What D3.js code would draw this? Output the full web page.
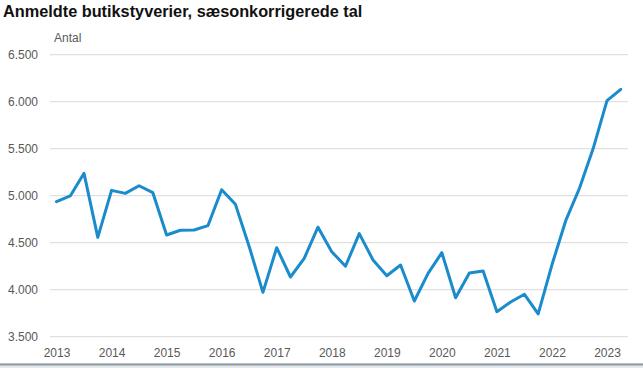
<!DOCTYPE html>
<html><head><meta charset="utf-8">
<script src="https://cdn.jsdelivr.net/npm/d3@7"></script>
<style>body{margin:0;background:#fff}svg{display:block}</style>
</head><body>
<script>
const years = [2013,2014,2015,2016,2017,2018,2019,2020,2021,2022,2023];
const quarters = [];
years.forEach(y => [1,2,3,4].forEach(q => { if (!(y===2023 && q>2)) quarters.push(y + (q-1)/4); }));
const values = [
 4936,4997,5238,4557,
 5057,5025,5106,5032,
 4582,4632,4635,4681,
 5064,4908,4460,3972,
 4447,4135,4334,4665,
 4404,4250,4596,4316,
 4149,4263,3880,4174,
 4394,3915,4177,4199,
 3766,3869,3951,3742,
 4265,4734,5079,5504,
 6011,6132
];
const yTicks = [3500,4000,4500,5000,5500,6000,6500];
const title = "Anmeldte butikstyverier, sæsonkorrigerede tal";
const yUnit = "Antal";

const W=643,H=368;
const svg=d3.select("body").append("svg").attr("width",W).attr("height",H)
  .style("font-family","'Liberation Sans', Arial, sans-serif");

const x=d3.scaleLinear().domain([2013,2023]).range([56.5,607]);
const y=d3.scaleLinear().domain([3500,6500]).range([336.7,54.7]);
const fmt=d3.format(",");
const dk=v=>fmt(v).replace(/,/g,".");

svg.append("text").attr("x",3).attr("y",17).attr("font-size",16.3).attr("font-weight","bold")
  .attr("fill","#111").text(title);
svg.append("text").attr("x",54).attr("y",42).attr("font-size",12).attr("fill","#595959").text(yUnit);

const g=svg.append("g");
g.selectAll("line.grid").data(yTicks).join("line").attr("class","grid")
  .attr("x1",50).attr("x2",628).attr("y1",d=>y(d)).attr("y2",d=>y(d))
  .attr("stroke","#d9d9d9").attr("stroke-width",1);
g.selectAll("text.yl").data(yTicks).join("text").attr("class","yl")
  .attr("x",38).attr("y",d=>y(d)).attr("dy","0.35em").attr("text-anchor","end")
  .attr("font-size",12).attr("fill","#595959").text(d=>dk(d));

const xAxis=d3.axisBottom(x).tickValues(years).tickFormat(d3.format("d")).tickSize(0).tickPadding(0);
const ax=svg.append("g").attr("transform","translate(0,348)").call(xAxis);
ax.select(".domain").remove();
ax.selectAll("text").attr("font-size",12).attr("fill","#595959").attr("dy","0.71em")
  .style("font-family","'Liberation Sans', Arial, sans-serif");

const line=d3.line().x((d,i)=>x(quarters[i])).y(d=>y(d));
svg.append("path").datum(values).attr("d",line).attr("fill","none")
  .attr("stroke","#1a8bcb").attr("stroke-width",3).attr("stroke-linejoin","round").attr("stroke-linecap","round");

svg.append("rect").attr("x",0).attr("y",363).attr("width",W).attr("height",5).attr("fill","#e4e8ea");
svg.append("line").attr("x1",0).attr("x2",W).attr("y1",364.5).attr("y2",364.5)
  .attr("stroke","#8d9ba5").attr("stroke-width",2);
</script>
</body></html>
